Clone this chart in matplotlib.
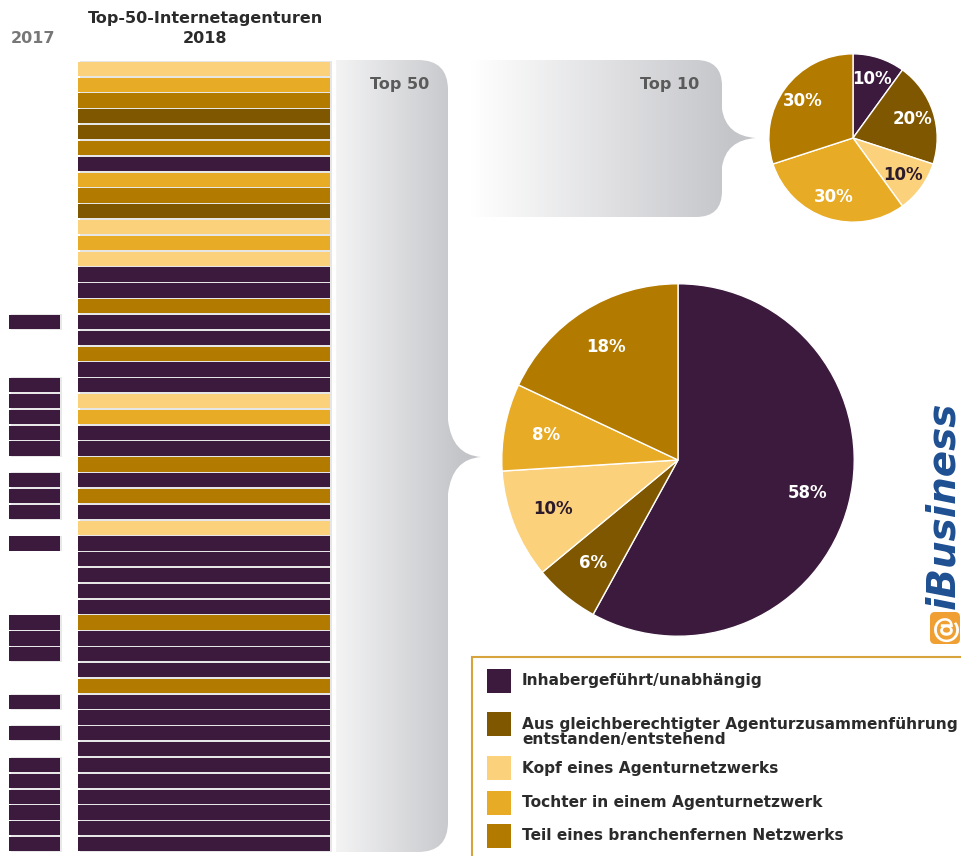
import numpy as np
import matplotlib.pyplot as plt
from matplotlib.patches import Rectangle, PathPatch, FancyBboxPatch
from matplotlib.path import Path
from matplotlib.colors import LinearSegmentedColormap

W, H = 961, 856

# categories and colours
categories = ["Inhabergeführt/unabhängig",
              "Aus gleichberechtigter Agenturzusammenführung\nentstanden/entstehend",
              "Kopf eines Agenturnetzwerks",
              "Tochter in einem Agenturnetzwerk",
              "Teil eines branchenfernen Netzwerks"]
colors = ["#3b1a3d", "#7f5700", "#fcd17c", "#e7ab25", "#b37a00"]

# category of each rank 1..50 in 2018 (index into categories)
ranks_2018 = np.arange(1, 51)
cat_2018 = [2, 3, 4, 1, 1, 4, 0, 3, 4, 1,
            2, 3, 2, 0, 0, 4, 0, 0, 4, 0,
            0, 2, 3, 0, 0, 4, 0, 4, 0, 2,
            0, 0, 0, 0, 0, 4, 0, 0, 0, 4,
            0, 0, 0, 0, 0, 0, 0, 0, 0, 0]
# ranks that were already in the list in 2017
ranks_2017 = [17, 21, 22, 23, 24, 25, 27, 28, 29, 31,
              36, 37, 38, 41, 43, 45, 46, 47, 48, 49, 50]

top10_share = [10, 20, 10, 30, 30]
top50_share = [58, 6, 10, 8, 18]


def fig_rect(x0, y0, x1, y1):
    return [x0 / W, 1 - y1 / H, (x1 - x0) / W, (y1 - y0) / H]


def bracket(x0, x1, y0, y1, ym, tip, r, half):
    # rounded panel with a concave pointer on the right side
    verts = [(x0, y0), (x1 - r, y0), (x1, y0), (x1, y0 + r),
             (x1, ym - half), (x1 + 4, ym - 2), (tip, ym),
             (x1 + 4, ym + 2), (x1, ym + half),
             (x1, y1 - r), (x1, y1), (x1 - r, y1), (x0, y1), (x0, y0)]
    codes = [Path.MOVETO, Path.LINETO, Path.CURVE3, Path.CURVE3,
             Path.LINETO, Path.CURVE3, Path.CURVE3,
             Path.CURVE3, Path.CURVE3,
             Path.LINETO, Path.CURVE3, Path.CURVE3, Path.LINETO, Path.CLOSEPOLY]
    return PathPatch(Path(verts, codes), facecolor="none", edgecolor="none")


fig = plt.figure(figsize=(W / 100, H / 100), dpi=100)
bg = fig.add_axes([0, 0, 1, 1])
bg.set_xlim(0, W)
bg.set_ylim(H, 0)
bg.axis("off")

grey = LinearSegmentedColormap.from_list("g", ["#ffffff", "#c4c5c9"])
grad = np.linspace(0, 1, 256).reshape(1, -1)

# Top 50 bracket panel
p50 = bracket(336, 448, 60, 852, 457, 481, 30, 37)
bg.add_patch(p50)
im = bg.imshow(np.clip(grad * 0.95 + 0.2, 0, 1), cmap=grey, vmin=0, vmax=1,
               aspect="auto", extent=(336, 485, 852, 60))
im.set_clip_path(p50)

# Top 10 panel
p10 = bracket(470, 722, 60, 217, 138, 756, 26, 29)
bg.add_patch(p10)
im2 = bg.imshow(np.clip(grad * 1.1, 0, 1), cmap=grey, vmin=0, vmax=1,
                aspect="auto", extent=(470, 760, 217, 60))
im2.set_clip_path(p10)

bg.text(400, 84, "Top 50", ha="center", va="center", fontsize=11.5,
        fontweight="bold", color="#5a5a5a")
bg.text(670, 84, "Top 10", ha="center", va="center", fontsize=11.5,
        fontweight="bold", color="#5a5a5a")

# headers
bg.text(205, 18, "Top-50-Internetagenturen", ha="center", va="center",
        fontsize=11.5, fontweight="bold", color="#2b2b2b")
bg.text(205, 38, "2018", ha="center", va="center", fontsize=11.5,
        fontweight="bold", color="#2b2b2b")
bg.text(33, 38, "2017", ha="center", va="center", fontsize=11.5,
        fontweight="bold", color="#777777")

# legend box
bg.add_patch(Rectangle((472, 657), 600, 300, facecolor="white",
                       edgecolor="#d6a33c", linewidth=1.5))
leg_y = [681, 724, 768, 803, 836]
text_y = [681, 732, 768, 803, 836]
for c, col, ly, ty in zip(categories, colors, leg_y, text_y):
    bg.add_patch(Rectangle((487, ly - 12), 24, 24, facecolor=col, edgecolor="none"))
    bg.text(522, ty, c, ha="left", va="center", fontsize=11.1, fontweight="bold",
            color="#2b2b2b", linespacing=0.95)

# logo
bg.add_patch(FancyBboxPatch((930, 612), 30, 32, boxstyle="round,pad=0,rounding_size=5",
                            facecolor="#f0a032", edgecolor="none"))
bg.text(945, 628, "@", rotation=90, ha="center", va="center",
        fontsize=20, fontweight="bold", color="white")
bg.text(943, 505, "iBusiness", rotation=90, ha="center", va="center",
        fontsize=28, fontweight="bold", fontstyle="italic", color="#1d4f92")

# bars
axb = fig.add_axes(fig_rect(0, 61, 340, 852))
axb.set_xlim(0, 340)
axb.set_ylim(50.5, 0.5)
axb.axis("off")
axb.barh(ranks_2018, 252, left=80, height=1.0, color="#e6e6e6")
axb.barh(ranks_2018, 252, left=78, height=0.9,
         color=[colors[c] for c in cat_2018])
axb.barh(ranks_2017, 51, left=11, height=1.0, color="#e8e8e8")
axb.barh(ranks_2017, 51, left=9, height=0.9, color=colors[0])


def draw_pie(rect, values, pctdist, size):
    ax = fig.add_axes(rect)
    wedges, _, autotexts = ax.pie(
        values, colors=colors, startangle=90, counterclock=False,
        autopct="%d%%", pctdistance=pctdist,
        wedgeprops=dict(edgecolor="white", linewidth=1),
        textprops=dict(fontsize=size, fontweight="bold", color="white"))
    autotexts[2].set_color("#2b1a2b")
    ax.set_xlim(-1.01, 1.01)
    ax.set_ylim(-1.01, 1.01)
    return ax


draw_pie(fig_rect(768, 53, 938, 223), top10_share, 0.74, 12)
draw_pie(fig_rect(500, 282, 856, 638), top50_share, 0.76, 12)

fig.savefig("out.png", dpi=100)
